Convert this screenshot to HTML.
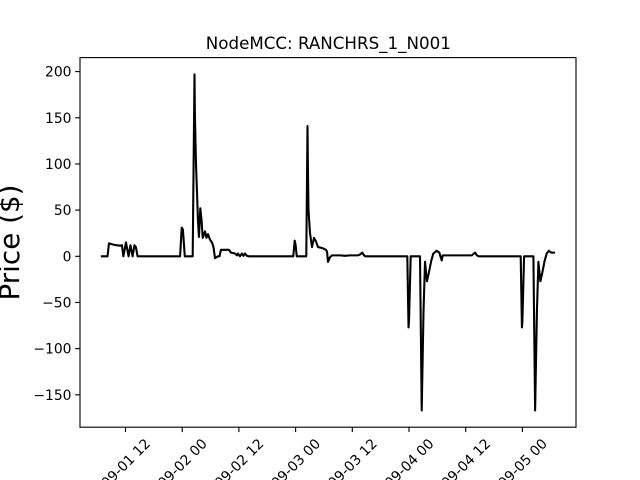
<!DOCTYPE html>
<html>
<head>
<meta charset="utf-8">
<style>
html,body{margin:0;padding:0;background:#fff;width:640px;height:480px;overflow:hidden}
svg{display:block}
text{font-family:"DejaVu Sans",sans-serif;fill:#000}
</style>
</head>
<body>
<svg id="chart" width="640" height="480" viewBox="0 0 640 480" xmlns="http://www.w3.org/2000/svg">
<rect x="0" y="0" width="640" height="480" fill="#fff"/>
<text x="328.3" y="49" font-size="16.7" text-anchor="middle">NodeMCC: RANCHRS_1_N001</text>
<text transform="translate(19 242.5) rotate(-90)" font-size="27.8" text-anchor="middle">Price ($)</text>
</svg>
<script>
const hours = [7,8.2,8.5,9.15,10,10.85,11.25,11.55,12.1,12.65,13.05,13.5,13.9,14.2,14.55,23.55,23.9,24.15,24.55,26.22,26.6,26.7,26.92,27.13,27.34,27.55,27.83,28.08,28.34,28.83,29.14,29.46,29.88,30.31,30.62,30.94,31.58,31.9,32.2,33.9,34.33,35.17,35.6,35.8,36.23,36.66,36.97,37.3,37.7,38.14,47.51,47.81,47.98,48.25,50.26,50.52,50.62,50.73,51.05,51.47,51.9,52.32,52.74,53.59,54.43,54.65,54.86,55.28,55.7,57.4,58.45,59.5,60.6,61.2,61.65,62.1,62.5,62.7,71.64,71.9,72,72.36,74.33,74.69,75.07,75.39,75.8,76.2,76.7,77.14,77.86,78.41,78.92,79.13,85.3,85.97,86.39,86.7,95.64,95.9,96,96.36,98.33,98.69,99.07,99.39,99.8,100.2,100.7,101.14,101.6,102.1,102.69];
const prices = [0,0,14,13,12,11.5,12,0,15,0,12,0,12,10,0,0,31,29,0,0,197,150,100,70,38,21,52,40,20,27,20,24,18,15,10,-2,0,0,7,7,4,3,1,3,0,3,0.5,3,0.5,0,0,17,13,0,0,141,90,50,25,10,20,16,10,9,7,5,-6,-1,1,1,0.5,1,1,1,2,4,1,0,0,-77,-70,0,0,-167,-60,-6,-27,-18,-5,3,6,4,-4.5,1,1,4,1,0,0,-77,-70,0,0,-167,-60,-6,-27,-18,-5,3,6,4,4];
const xTickHours = [12,24,36,48,60,72,84,96];
const xTickLabels = ['09-01 12','09-02 00','09-02 12','09-03 00','09-03 12','09-04 00','09-04 12','09-05 00'];
const yTickValues = [200,150,100,50,0,-50,-100,-150];

const NS = 'http://www.w3.org/2000/svg';
const svg = document.getElementById('chart');
const plot = {left:80, right:576, top:57.6, bottom:427.2};
function xScale(h){ return 125.5 + (h - 12) * 4.725; }
function yScale(v){ return 256.3 - v * 0.9235; }
function make(tag, attrs){
  const el = document.createElementNS(NS, tag);
  for (const k in attrs) el.setAttribute(k, attrs[k]);
  return el;
}

const line = make('polyline', {
  points: hours.map((h, i) => xScale(h).toFixed(2) + ',' + yScale(prices[i]).toFixed(2)).join(' '),
  fill: 'none', stroke: '#000', 'stroke-width': 2.08, 'stroke-linejoin': 'round', 'stroke-linecap': 'square'
});


svg.appendChild(line);

const frame = make('rect', {
  x: plot.left, y: plot.top, width: plot.right - plot.left, height: plot.bottom - plot.top,
  fill: 'none', stroke: '#000', 'stroke-width': 1.11
});


svg.appendChild(frame);

yTickValues.forEach(v => {
  const y = yScale(v);
  const tick = make('line', {x1: plot.left - 4.86, x2: plot.left, y1: y, y2: y, stroke: '#000', 'stroke-width': 1.11});
  
  
  svg.appendChild(tick);
  const label = make('text', {x: plot.left - 8.5, y: y + 5, 'font-size': 13.9, 'text-anchor': 'end'});
  
  
  label.textContent = String(v).replace('-', '\u2212');
  svg.appendChild(label);
});

xTickHours.forEach((h, i) => {
  const x = xScale(h);
  const tick = make('line', {x1: x, x2: x, y1: plot.bottom, y2: plot.bottom + 4.86, stroke: '#000', 'stroke-width': 1.11});
  
  
  svg.appendChild(tick);
  const label = make('text', {
    transform: 'translate(' + x + ' 463) rotate(-45)',
    'font-size': 13.9, 'text-anchor': 'middle', dy: '0.36em'
  });
  
  
  label.textContent = xTickLabels[i];
  svg.appendChild(label);
});
</script>
</body>
</html>
